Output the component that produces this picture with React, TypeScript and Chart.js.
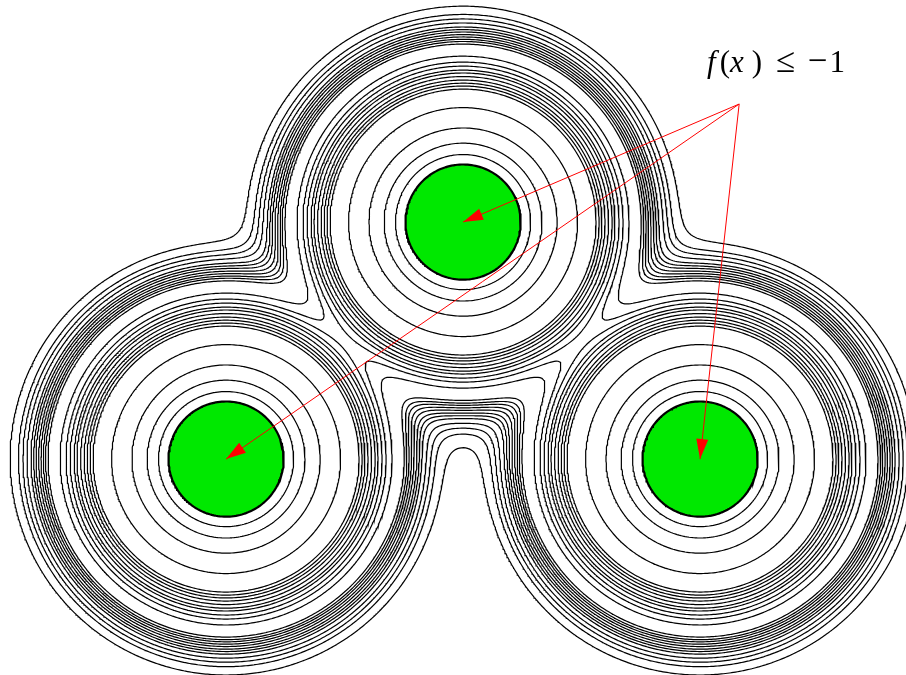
import React, { useEffect, useRef } from "react";
import { Chart, registerables } from "chart.js";

Chart.register(...registerables);

// ---- data (plot units; one unit = distance between a lower well and the symmetry axis) ----
const wellX = [0, -1, 1];
const wellY = [1, 0, 0];
// boundary of the region f(x) <= -1 (green disks), as a distance-like level
const diskLevels = [0.243];
// contour levels (distance-like values)
const contourLevels = [
  0.285, 0.333, 0.397, 0.483,
  0.561, 0.574, 0.586, 0.599, 0.614, 0.629, 0.641, 0.658, 0.675, 0.7,
  0.751, 0.762, 0.771, 0.781, 0.791, 0.802, 0.812, 0.823, 0.84, 0.857, 0.876, 0.911,
];
const softness = [0.063];
const xLimits = [-1.954, 1.869];
const yLimits = [-0.911, 1.937];
const arrowStart = [1.165, 1.498];

const STEP = 0.0085;

type Grid = { x0: number; y0: number; nx: number; ny: number; v: Float64Array };

function field(x: number, y: number): number {
  const k = softness[0];
  const ds: number[] = [];
  let dmin = Infinity;
  for (let i = 0; i < wellX.length; i++) {
    const d = Math.hypot(x - wellX[i], y - wellY[i]);
    ds.push(d);
    if (d < dmin) dmin = d;
  }
  let s = 0;
  for (const d of ds) s += Math.exp(-(d - dmin) / k);
  return dmin - k * Math.log(s);
}

function buildGrid(): Grid {
  const pad = 0.05;
  const x0 = xLimits[0] - pad;
  const y0 = yLimits[0] - pad;
  const nx = Math.ceil((xLimits[1] + pad - x0) / STEP) + 1;
  const ny = Math.ceil((yLimits[1] + pad - y0) / STEP) + 1;
  const v = new Float64Array(nx * ny);
  for (let j = 0; j < ny; j++) {
    for (let i = 0; i < nx; i++) {
      v[j * nx + i] = field(x0 + i * STEP, y0 + j * STEP);
    }
  }
  return { x0, y0, nx, ny, v };
}

function contour(g: Grid, L: number): { x: number; y: number }[][] {
  const { x0, y0, nx, ny, v } = g;
  const adj = new Map<number, number[]>();
  const link = (a: number, b: number) => {
    let la = adj.get(a);
    if (!la) { la = []; adj.set(a, la); }
    la.push(b);
    let lb = adj.get(b);
    if (!lb) { lb = []; adj.set(b, lb); }
    lb.push(a);
  };
  for (let j = 0; j < ny - 1; j++) {
    for (let i = 0; i < nx - 1; i++) {
      const k = j * nx + i;
      const a = v[k], b = v[k + 1], c = v[k + nx + 1], d = v[k + nx];
      let code = 0;
      if (a > L) code |= 1;
      if (b > L) code |= 2;
      if (c > L) code |= 4;
      if (d > L) code |= 8;
      if (code === 0 || code === 15) continue;
      const e0 = 2 * k, e1 = 2 * (k + 1) + 1, e2 = 2 * (k + nx), e3 = 2 * k + 1;
      const center = (a + b + c + d) / 4 > L;
      switch (code) {
        case 1: link(e3, e0); break;
        case 2: link(e0, e1); break;
        case 3: link(e3, e1); break;
        case 4: link(e1, e2); break;
        case 5:
          if (center) { link(e0, e1); link(e2, e3); } else { link(e3, e0); link(e1, e2); }
          break;
        case 6: link(e0, e2); break;
        case 7: link(e3, e2); break;
        case 8: link(e2, e3); break;
        case 9: link(e0, e2); break;
        case 10:
          if (center) { link(e3, e0); link(e1, e2); } else { link(e0, e1); link(e2, e3); }
          break;
        case 11: link(e1, e2); break;
        case 12: link(e1, e3); break;
        case 13: link(e0, e1); break;
        case 14: link(e3, e0); break;
      }
    }
  }
  const pointOf = (e: number) => {
    const idx = e >> 1;
    const i = idx % nx;
    const j = (idx - i) / nx;
    const va = v[idx];
    if ((e & 1) === 0) {
      const vb = v[idx + 1];
      const t = (L - va) / (vb - va);
      return { x: x0 + (i + t) * STEP, y: y0 + j * STEP };
    }
    const vb = v[idx + nx];
    const t = (L - va) / (vb - va);
    return { x: x0 + i * STEP, y: y0 + (j + t) * STEP };
  };
  const visited = new Set<number>();
  const lines: { x: number; y: number }[][] = [];
  const walk = (start: number) => {
    const seq = [start];
    visited.add(start);
    let cur = start;
    for (;;) {
      const nb = adj.get(cur)!;
      let next = -1;
      for (const n of nb) if (!visited.has(n)) { next = n; break; }
      if (next < 0) {
        if (seq.length > 2 && nb.includes(start)) seq.push(start);
        break;
      }
      visited.add(next);
      seq.push(next);
      cur = next;
    }
    return seq.map(pointOf);
  };
  for (const [e, nb] of adj) if (nb.length === 1 && !visited.has(e)) lines.push(walk(e));
  for (const [e] of adj) if (!visited.has(e)) lines.push(walk(e));
  return lines;
}

const arrowPlugin = {
  id: "arrowHeads",
  afterDatasetsDraw(chart: any) {
    const ctx = chart.ctx as CanvasRenderingContext2D;
    chart.data.datasets.forEach((ds: any, i: number) => {
      if (!ds.arrowHead) return;
      const pts = chart.getDatasetMeta(i).data;
      if (pts.length < 2) return;
      const p0 = pts[pts.length - 2];
      const p1 = pts[pts.length - 1];
      const ang = Math.atan2(p1.y - p0.y, p1.x - p0.x);
      const len = 20, hw = 6;
      const c = Math.cos(ang), s = Math.sin(ang);
      ctx.save();
      ctx.fillStyle = ds.borderColor;
      ctx.beginPath();
      ctx.moveTo(p1.x, p1.y);
      ctx.lineTo(p1.x - len * c + hw * s, p1.y - len * s - hw * c);
      ctx.lineTo(p1.x - len * c - hw * s, p1.y - len * s + hw * c);
      ctx.closePath();
      ctx.fill();
      ctx.restore();
    });
  },
};

export default function App() {
  const ref = useRef<HTMLCanvasElement>(null);
  useEffect(() => {
    document.body.style.margin = "0";
    const grid = buildGrid();
    const datasets: any[] = [];
    // arrows (drawn on top: lower index is drawn last)
    for (let i = 0; i < wellX.length; i++) {
      datasets.push({
        data: [
          { x: arrowStart[0], y: arrowStart[1] },
          { x: wellX[i], y: wellY[i] },
        ],
        borderColor: "#ff0000",
        borderWidth: 1,
        pointRadius: 0,
        fill: false,
        arrowHead: true,
      });
    }
    for (const L of diskLevels) {
      for (const line of contour(grid, L)) {
        datasets.push({
          data: line,
          borderColor: "#000000",
          borderWidth: 2.2,
          backgroundColor: "#00e800",
          pointRadius: 0,
          fill: "shape",
        });
      }
    }
    for (const L of contourLevels) {
      for (const line of contour(grid, L)) {
        datasets.push({
          data: line,
          borderColor: "#000000",
          borderWidth: 1.2,
          pointRadius: 0,
          fill: false,
        });
      }
    }
    const chart = new Chart(ref.current!, {
      type: "line",
      data: { datasets },
      options: {
        responsive: false,
        maintainAspectRatio: false,
        animation: false,
        events: [],
        layout: { padding: 0 },
        plugins: {
          legend: { display: false },
          tooltip: { enabled: false },
          title: { display: false },
        },
        elements: { line: { tension: 0 }, point: { radius: 0 } },
        scales: {
          x: { type: "linear", min: xLimits[0], max: xLimits[1], display: false },
          y: { type: "linear", min: yLimits[0], max: yLimits[1], display: false },
        },
      } as any,
      plugins: [arrowPlugin as any],
    });
    return () => chart.destroy();
  }, []);

  const sym: React.CSSProperties = { fontSize: 35 };
  return (
    <div style={{ position: "relative", width: 906, height: 675, background: "#ffffff", overflow: "hidden" }}>
      <canvas ref={ref} width={906} height={675} style={{ position: "absolute", left: 0, top: 0 }} />
      <div
        style={{
          position: "absolute",
          left: 707,
          top: 45,
          fontFamily: "'Liberation Serif', 'DejaVu Serif', serif",
          fontSize: 31,
          lineHeight: "31px",
          whiteSpace: "nowrap",
          color: "#000",
        }}
      >
        <i>f</i>
        <span style={{ marginLeft: 4 }}>(</span>
        <i>x</i>
        <span style={{ marginLeft: 8 }}>)</span>{" "}
        <span style={{ ...sym, marginLeft: 6 }}>≤</span>{" "}
        <span style={{ ...sym, marginLeft: 5 }}>−</span>
        <span style={{ marginLeft: 2 }}>1</span>
      </div>
    </div>
  );
}
